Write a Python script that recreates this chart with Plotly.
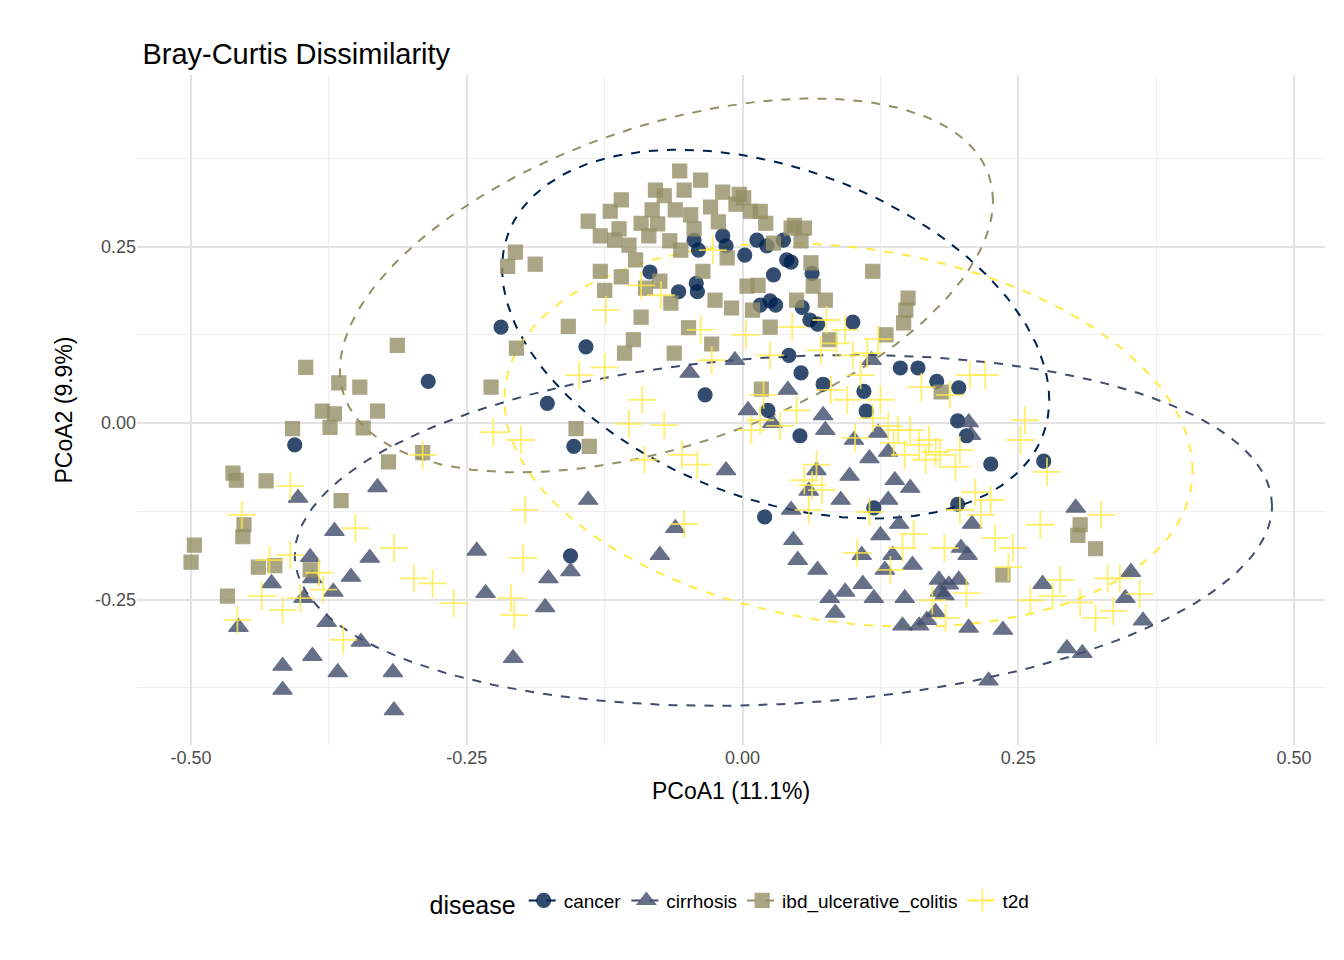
import numpy as np
import plotly.graph_objects as go

# PCoA coordinates
cancer_x = [-0.406, -0.285, -0.219, -0.177, -0.153, -0.156, -0.142, -0.084, -0.058, -0.044, -0.042, -0.041, -0.040, -0.034,
            -0.018, -0.015, 0.002, 0.013, 0.022, 0.025, 0.016, 0.030, 0.037, 0.028, 0.040, 0.044, 0.063, 0.054, 0.061, 0.068,
            0.100, 0.042, 0.053, 0.073, 0.110, 0.112, 0.143, 0.159, 0.176, 0.196, 0.195, 0.203, 0.195, 0.225, 0.273, 0.119,
            0.023, 0.052, 0.020]
cancer_y = [-0.031, 0.059, 0.136, 0.028, -0.033, -0.188, 0.108, 0.214, 0.186, 0.259, 0.198, 0.186, 0.245, 0.040,
            0.265, 0.251, 0.238, 0.259, 0.251, 0.173, 0.167, 0.167, 0.259, 0.210, 0.231, 0.228, 0.212, 0.164, 0.146, 0.140,
            0.143, 0.096, 0.071, 0.055, 0.045, 0.017, 0.078, 0.078, 0.059, 0.050, 0.003, -0.018, -0.115, -0.058, -0.054, -0.120,
            0.018, -0.018, -0.133]

cirrhosis_x = [-0.457, -0.403, -0.427, -0.417, -0.417, -0.392, -0.390, -0.398, -0.370, -0.371, -0.377, -0.390, -0.367, -0.355,
               -0.346, -0.338, -0.331, -0.317, -0.316, -0.241, -0.233, -0.208, -0.179, -0.176, -0.156, -0.140, -0.075, -0.061,
               -0.048, -0.015, -0.007, 0.005, 0.027, 0.041, 0.046, 0.044, 0.050, 0.060, 0.067, 0.068, 0.073, 0.075, 0.079,
               0.084, 0.089, 0.093, 0.097, 0.101, 0.108, 0.109, 0.115, 0.117, 0.119, 0.123, 0.125, 0.129, 0.132, 0.132, 0.136,
               0.138, 0.142, 0.145, 0.147, 0.152, 0.154, 0.160, 0.167, 0.175, 0.178, 0.183, 0.187, 0.196, 0.198, 0.204, 0.205,
               0.205, 0.207, 0.208, 0.223, 0.236, 0.272, 0.294, 0.302, 0.308, 0.347, 0.352, 0.363, 0.179]
cirrhosis_y = [-0.289, -0.106, -0.227, -0.344, -0.378, -0.190, -0.220, -0.248, -0.153, -0.239, -0.282, -0.330, -0.353, -0.218,
               -0.310, -0.191, -0.091, -0.353, -0.407, -0.181, -0.241, -0.333, -0.261, -0.220, -0.210, -0.109, -0.187, -0.149,
               0.071, -0.067, 0.089, 0.018, 0.000, 0.047, -0.166, -0.123, -0.194, -0.096, -0.067, -0.208, 0.011, -0.010, -0.248,
               -0.269, -0.109, -0.239, -0.075, -0.024, -0.187, -0.228, -0.050, 0.089, -0.248, -0.014, -0.159, -0.208, -0.041,
               -0.109, -0.187, -0.081, -0.143, -0.287, -0.248, -0.092, -0.201, -0.287, -0.279, -0.268, -0.222, -0.244, -0.229,
               -0.222, -0.177, -0.187, -0.290, 0.001, -0.017, -0.143, -0.365, -0.293, -0.228, -0.319, -0.120, -0.326, -0.248,
               -0.211, -0.280, -0.239]

ibd_x = [-0.500, -0.497, -0.467, -0.462, -0.459, -0.453, -0.452, -0.439, -0.432, -0.424, -0.408, -0.396, -0.392, -0.381,
         -0.374, -0.370, -0.366, -0.364, -0.347, -0.344, -0.331, -0.321, -0.313, -0.290, -0.228, -0.213, -0.206, -0.205,
         -0.188, -0.158, -0.151, -0.139, -0.140, -0.129, -0.129, -0.125, -0.120, -0.116, -0.112, -0.110, -0.110, -0.107,
         -0.103, -0.099, -0.097, -0.092, -0.092, -0.088, -0.085, -0.082, -0.079, -0.077, -0.075, -0.071, -0.066, -0.065,
         -0.062, -0.061, -0.057, -0.056, -0.053, -0.049, -0.047, -0.044, -0.038, -0.036, -0.029, -0.028, -0.025, -0.022,
         -0.018, -0.014, -0.010, -0.006, -0.003, 0.001, 0.004, 0.007, 0.009, 0.014, 0.016, 0.017, 0.021, 0.025, 0.028,
         0.044, 0.047, 0.049, 0.053, 0.056, 0.062, 0.064, 0.075, 0.079, 0.118, 0.130, 0.146, 0.150, 0.148, 0.180, 0.236,
         0.304, 0.306, 0.320]
ibd_y = [-0.197, -0.173, -0.245, -0.071, -0.081, -0.161, -0.144, -0.204, -0.082, -0.202, -0.008, 0.079, -0.208, 0.017,
         -0.006, 0.013, 0.057, -0.110, 0.051, -0.007, 0.017, -0.055, 0.110, -0.042, 0.051, 0.222, 0.242, 0.106,
         0.225, 0.137, -0.008, -0.033, 0.286, 0.215, 0.265, 0.188, 0.300, 0.259, 0.275, 0.316, 0.207, 0.099,
         0.252, 0.118, 0.231, 0.283, 0.150, 0.191, 0.265, 0.302, 0.330, 0.282, 0.201, 0.322, 0.258, 0.170,
         0.099, 0.302, 0.357, 0.245, 0.330, 0.135, 0.295, 0.275, 0.344, 0.215, 0.306, 0.112, 0.174, 0.285,
         0.327, 0.234, 0.163, 0.310, 0.324, 0.319, 0.194, 0.300, 0.160, 0.195, 0.300, 0.048, 0.283, 0.136, 0.255,
         0.276, 0.280, 0.174, 0.258, 0.276, 0.227, 0.194, 0.174, 0.118, 0.215, 0.125, 0.142, 0.177, 0.160, 0.044, -0.215,
         -0.159, -0.144, -0.178]

t2d_x = [-0.458, -0.454, -0.436, -0.429, -0.417, -0.410, -0.410, -0.401, -0.384, -0.380, -0.351, -0.362, -0.316, -0.298,
         -0.290, -0.281, -0.262, -0.226, -0.210, -0.207, -0.201, -0.199, -0.197, -0.148, -0.124, -0.125, -0.103, -0.092,
         -0.091, -0.089, -0.074, -0.071, -0.055, -0.053, -0.041, -0.038, -0.028, -0.027, 0.003, 0.008, 0.016, 0.019, 0.025,
         0.034, 0.045, 0.049, 0.056, 0.060, 0.063, 0.067, 0.071, 0.072, 0.076, 0.080, 0.085, 0.093, 0.095, 0.100, 0.102,
         0.104, 0.107, 0.113, 0.115, 0.118, 0.123, 0.125, 0.132, 0.134, 0.137, 0.141, 0.145, 0.147, 0.152, 0.155, 0.160,
         0.162, 0.166, 0.169, 0.172, 0.175, 0.179, 0.183, 0.184, 0.188, 0.193, 0.197, 0.203, 0.206, 0.211, 0.216, 0.220,
         0.225, 0.229, 0.241, 0.245, 0.252, 0.256, 0.261, 0.270, 0.276, 0.281, 0.288, 0.306, 0.320, 0.325, 0.331, 0.336,
         0.360, 0.342, 0.197]
t2d_y = [-0.279, -0.130, -0.245, -0.194, -0.265, -0.089, -0.187, -0.248, -0.212, -0.236, -0.149, -0.307, -0.177, -0.220,
         -0.045, -0.227, -0.255, -0.013, -0.248, -0.272, -0.024, -0.191, -0.123, 0.068, 0.160, 0.079, -0.001, 0.195,
         0.033, -0.052, 0.181, -0.003, -0.045, -0.143, -0.059, 0.132, 0.089, 0.245, 0.125, -0.010, 0.004, 0.040, 0.096,
         -0.004, 0.136, 0.018, -0.081, -0.123, -0.088, -0.059, 0.103, -0.095, 0.146, 0.047, 0.113, 0.132, 0.033, 0.096, -0.021,
         -0.184, 0.068, 0.099, -0.126, 0.007, 0.119, 0.033, -0.004, -0.208, -0.028, -0.010, -0.177, -0.045, -0.010, -0.157, -0.031,
         0.051, -0.052, -0.024, -0.251, -0.041, -0.045, -0.177, -0.276, 0.040, -0.062, -0.038, -0.241, 0.068, -0.098, -0.130, 0.068,
         -0.109, -0.163, -0.204, -0.177, -0.024, 0.004, -0.251, -0.144, -0.069, -0.245, -0.222, -0.254, -0.276, -0.130, -0.220, -0.266,
         -0.242, -0.220, -0.123]

# 95% ellipses: center, right-extreme semi-diameter, vertical conjugate half-height
ell_center = {"cancer": (0.030, 0.126), "cirrhosis": (0.037, -0.152),
              "ibd_ulcerative_colitis": (-0.069, 0.195), "t2d": (0.096, -0.017)}
ell_u = {"cancer": (0.248, -0.093), "cirrhosis": (0.443, 0.035),
         "ibd_ulcerative_colitis": (0.296, 0.120), "t2d": (0.312, -0.050)}
ell_h = {"cancer": 0.244, "cirrhosis": 0.246, "ibd_ulcerative_colitis": 0.236, "t2d": 0.267}

groups = ["cancer", "cirrhosis", "ibd_ulcerative_colitis", "t2d"]
xs = {"cancer": cancer_x, "cirrhosis": cirrhosis_x, "ibd_ulcerative_colitis": ibd_x, "t2d": t2d_x}
ys = {"cancer": cancer_y, "cirrhosis": cirrhosis_y, "ibd_ulcerative_colitis": ibd_y, "t2d": t2d_y}
colors = {"cancer": "#00204D", "cirrhosis": "#414D6B", "ibd_ulcerative_colitis": "#958F66", "t2d": "#FFEA46"}
symbols = {"cancer": "circle", "cirrhosis": "triangle-up", "ibd_ulcerative_colitis": "square", "t2d": "cross-thin-open"}
sizes = {"cancer": 14, "cirrhosis": 17, "ibd_ulcerative_colitis": 14, "t2d": 20}

fig = go.Figure()
t = np.linspace(0, 2 * np.pi, 200)
for g in groups:
    cx, cy = ell_center[g]
    ux, uy = ell_u[g]
    h = ell_h[g]
    fig.add_trace(go.Scatter(x=cx + ux * np.cos(t), y=cy + uy * np.cos(t) + h * np.sin(t), mode="lines",
                             line=dict(color=colors[g], dash="dash", width=2), showlegend=False, hoverinfo="skip"))
for g in groups:
    lw = 1.8 if g == "t2d" else 1.2
    fig.add_trace(go.Scatter(x=xs[g], y=ys[g], mode="markers", name=g, showlegend=False,
                             marker=dict(symbol=symbols[g], size=sizes[g], color=colors[g], opacity=0.8,
                                         line=dict(width=lw, color=colors[g]))))
    fig.add_trace(go.Scatter(x=[None], y=[None], mode="lines+markers", name=g,
                             line=dict(color=colors[g], dash="dash", width=2),
                             marker=dict(symbol=symbols[g], size=sizes[g], color=colors[g], opacity=0.8,
                                         line=dict(width=lw, color=colors[g]))))

grid = dict(showgrid=True, gridcolor="#E3E3E3", gridwidth=2, zeroline=False, showline=False, ticks="",
            tickfont=dict(size=18, color="#4D4D4D"), title_font=dict(size=23, color="black"),
            minor=dict(showgrid=True, gridcolor="#EEEEEE", gridwidth=1.2))
fig.update_xaxes(range=[-0.549, 0.528], tickvals=[-0.5, -0.25, 0, 0.25, 0.5],
                 ticktext=["-0.50", "-0.25", "0.00", "0.25", "0.50"], title_text="PCoA1 (11.1%)",
                 minor_tickvals=[-0.375, -0.125, 0.125, 0.375], **grid)
fig.update_yaxes(range=[-0.456, 0.493], tickvals=[-0.25, 0, 0.25], ticktext=["-0.25", "0.00", "0.25"],
                 title_text="PCoA2 (9.9%)", minor_tickvals=[-0.375, -0.125, 0.125, 0.375], **grid)
fig.update_layout(
    width=1344, height=960, plot_bgcolor="white", paper_bgcolor="white",
    font=dict(family="Liberation Sans, Arial, sans-serif", color="black"),
    title=dict(text="Bray-Curtis Dissimilarity", x=0.1, y=0.963, xanchor="left", font=dict(size=29)),
    margin=dict(l=129, r=27, t=67, b=223),
    legend=dict(orientation="h", x=0.5, xanchor="center", y=-0.236, yanchor="middle",
                title=dict(text="disease", font=dict(size=25)), font=dict(size=19)),
)
fig.write_html("out.html")
